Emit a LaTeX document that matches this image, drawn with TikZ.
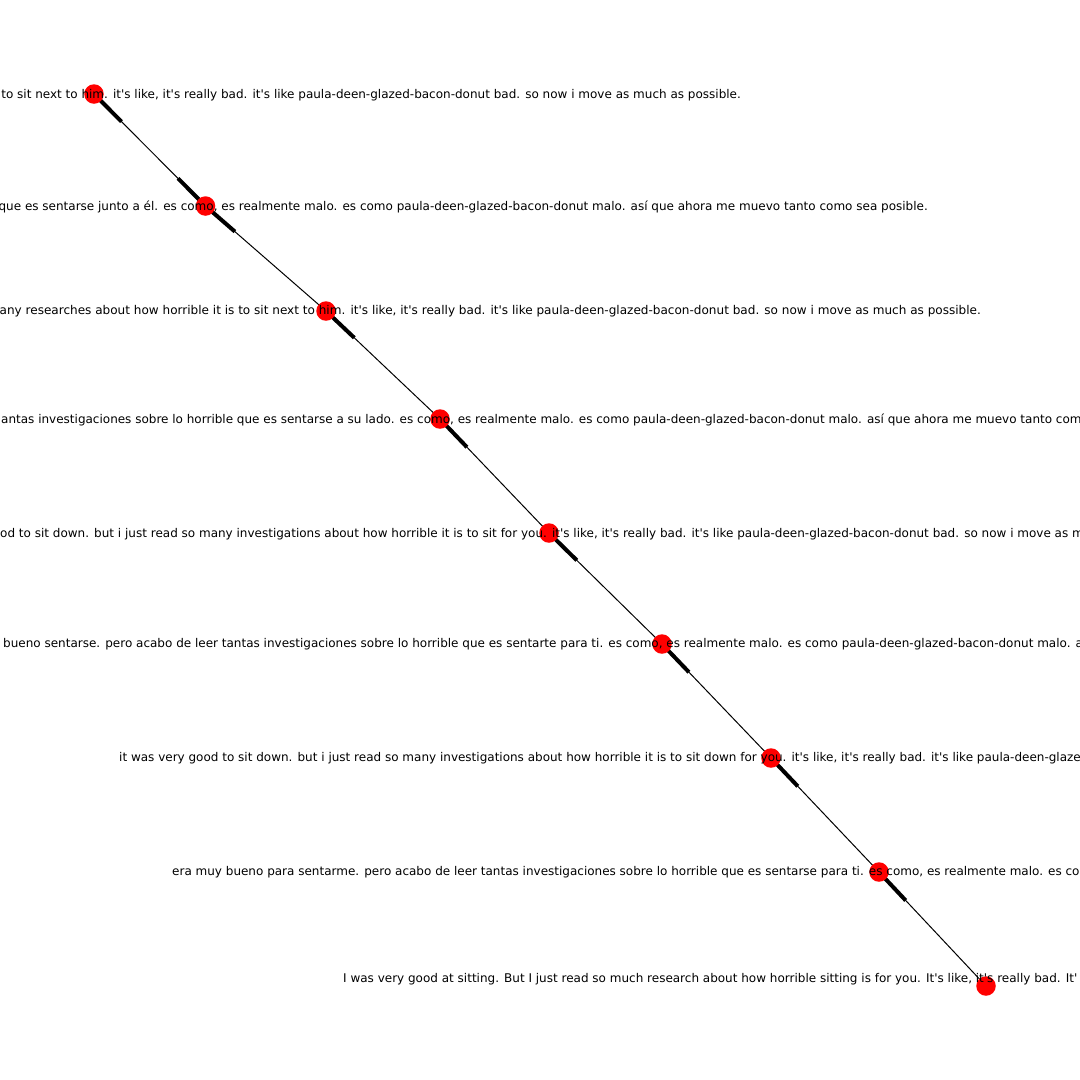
\documentclass[tikz,border=0pt]{standalone}
\usepackage{fontspec}
\newfontfamily\lbl{DejaVu Sans}
\usetikzlibrary{calc}
\pgfdeclarelayer{bg}
\pgfsetlayers{bg,main}
\tikzset{
  edgeline/.style={draw=black, line width=1pt},
  tailseg/.style={draw=black, line width=4pt},
  vert/.style={circle, fill=red, draw=none, minimum size=19.5pt, inner sep=0pt},
  lab/.style={inner sep=0pt, font=\lbl\fontsize{12}{14}\selectfont, text=black}
}
\begin{document}
\begin{tikzpicture}[x=1pt, y=-1pt]
\useasboundingbox (0,0) rectangle (1080,1080);
\node[vert] (n1) at (94,94) {};
\node[vert] (n2) at (205.5,206) {};
\node[vert] (n3) at (326,311) {};
\node[vert] (n4) at (440,419) {};
\node[vert] (n5) at (549,533) {};
\node[vert] (n6) at (662,644) {};
\node[vert] (n7) at (771,758) {};
\node[vert] (n8) at (879,872) {};
\node[vert] (n9) at (986,986) {};
\begin{pgfonlayer}{bg}
\draw[edgeline] (n1.center) -- (n2.center);
\draw[edgeline] (n2.center) -- (n3.center);
\draw[edgeline] (n3.center) -- (n4.center);
\draw[edgeline] (n4.center) -- (n5.center);
\draw[edgeline] (n5.center) -- (n6.center);
\draw[edgeline] (n6.center) -- (n7.center);
\draw[edgeline] (n7.center) -- (n8.center);
\draw[edgeline] (n8.center) -- (n9.center);
\draw[tailseg] (n1.center) -- ($(n1.center)!39pt!(n2.center)$);
\draw[tailseg] (n2.center) -- ($(n2.center)!39pt!(n1.center)$);
\draw[tailseg] (n2.center) -- ($(n2.center)!39pt!(n3.center)$);
\draw[tailseg] (n3.center) -- ($(n3.center)!39pt!(n4.center)$);
\draw[tailseg] (n4.center) -- ($(n4.center)!39pt!(n5.center)$);
\draw[tailseg] (n5.center) -- ($(n5.center)!39pt!(n6.center)$);
\draw[tailseg] (n6.center) -- ($(n6.center)!39pt!(n7.center)$);
\draw[tailseg] (n7.center) -- ($(n7.center)!39pt!(n8.center)$);
\draw[tailseg] (n8.center) -- ($(n8.center)!39pt!(n9.center)$);
\end{pgfonlayer}
\begin{scope}
\clip (0,0) rectangle (1080,1080);
\node[lab, anchor=base east] (t1) at (741,98) {to sit next to him. it's like, it's really bad. it's like paula-deen-glazed-bacon-donut bad. so now i move as much as possible.};
\node[lab, anchor=base east] (t2) at (928,210) {que es sentarse junto a él. es como, es realmente malo. es como paula-deen-glazed-bacon-donut malo. así que ahora me muevo tanto como sea posible.};
\node[lab, anchor=base east] (t3) at (981,314) {\fontsize{12.05}{14}\selectfont any researches about how horrible it is to sit next to him. it's like, it's really bad. it's like paula-deen-glazed-bacon-donut bad. so now i move as much as possible.};
\node[lab, anchor=base west] (t4) at (1,423) {antas investigaciones sobre lo horrible que es sentarse a su lado. es como, es realmente malo. es como paula-deen-glazed-bacon-donut malo. así que ahora me muevo tanto com};
\node[lab, anchor=base west] (t5) at (0,537) {od to sit down. but i just read so many investigations about how horrible it is to sit for you. it's like, it's really bad. it's like paula-deen-glazed-bacon-donut bad. so now i move as m};
\node[lab, anchor=base west] (t6) at (3,647) {bueno sentarse. pero acabo de leer tantas investigaciones sobre lo horrible que es sentarte para ti. es como, es realmente malo. es como paula-deen-glazed-bacon-donut malo. a};
\node[lab, anchor=base west] (t7) at (119,761) {it was very good to sit down. but i just read so many investigations about how horrible it is to sit down for you. it's like, it's really bad. it's like paula-deen-glaze};
\node[lab, anchor=base west] (t8) at (172,875) {era muy bueno para sentarme. pero acabo de leer tantas investigaciones sobre lo horrible que es sentarse para ti. es como, es realmente malo. es co};
\node[lab, anchor=base west] (t9) at (343,982) {I was very good at sitting. But I just read so much research about how horrible sitting is for you. It's like, it's really bad. It'};
\end{scope}
\end{tikzpicture}
\end{document}
